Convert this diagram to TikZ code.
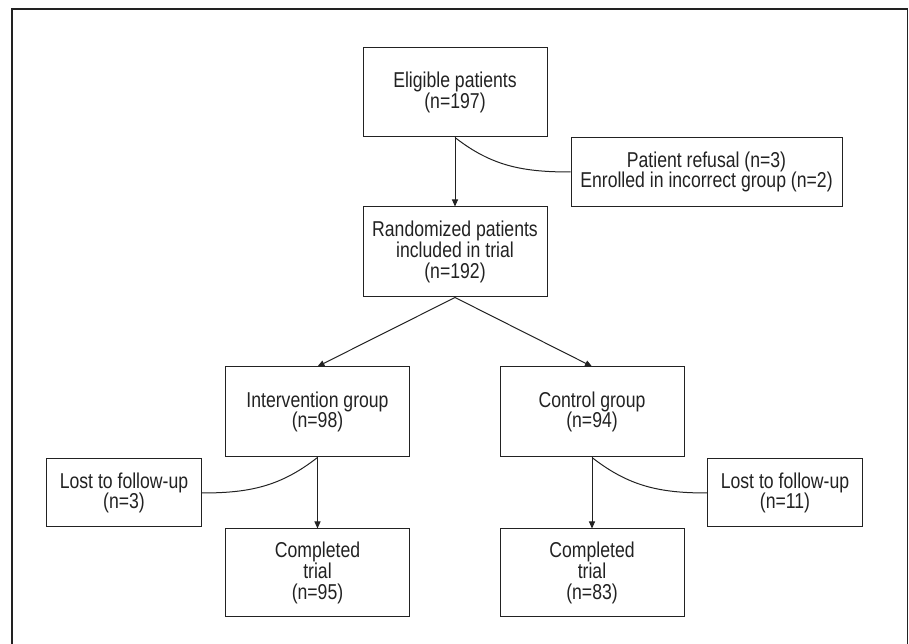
\documentclass[tikz,border=0pt]{standalone}
\usepackage{fontspec}
\setmainfont[FakeStretch=0.82]{Liberation Sans}
\usetikzlibrary{arrows.meta}
\definecolor{ink}{HTML}{222222}
\begin{document}
\begin{tikzpicture}[x=1pt,y=1pt,
  box/.style={draw=ink, line width=1pt, align=center, inner sep=0pt,
    font=\fontsize{21.5}{20.8}\selectfont, text=ink},
  arr/.style={draw=ink, line width=1pt, -{Triangle[length=7pt,width=6pt]}},
  lnk/.style={draw=ink, line width=1pt}]
\useasboundingbox (0,0) rectangle (909,644);
% frame
\draw[ink, line width=1.4pt] (12,0) -- (12,635) -- (907.5,635) -- (907.5,0);
% nodes
\node[box, minimum width=184pt, minimum height=89pt] (elig) at (455,551.5) {Eligible patients\\(n=197)};
\node[box, minimum width=271pt, minimum height=69.5pt] (refus) at (706.5,472) {Patient refusal (n=3)\\Enrolled in incorrect group (n=2)};
\node[box, minimum width=184pt, minimum height=90pt] (rand) at (455,392) {Randomized patients\\included in trial\\(n=192)};
\node[box, minimum width=184pt, minimum height=90pt] (interv) at (317.5,232) {Intervention group\\(n=98)};
\node[box, minimum width=184pt, minimum height=90pt] (ctrl) at (592,232) {Control group\\(n=94)};
\node[box, minimum width=154.5pt, minimum height=68pt] (lostA) at (124,151) {Lost to follow-up\\(n=3)};
\node[box, minimum width=155pt, minimum height=68pt] (lostB) at (785,151) {Lost to follow-up\\(n=11)};
\node[box, minimum width=184pt, minimum height=88pt] (compA) at (317.5,71) {Completed\\trial\\(n=95)};
\node[box, minimum width=184pt, minimum height=88pt] (compB) at (592,71) {Completed\\trial\\(n=83)};
% connectors
\draw[arr] (elig.south) -- (rand.north);
\draw[lnk] (elig.south) to[out=-38, in=180] (refus.west);
\draw[arr] (rand.south) -- (interv.north);
\draw[arr] (rand.south) -- (ctrl.north);
\draw[arr] (interv.south) -- (compA.north);
\draw[lnk] (interv.south) to[out=-142, in=0] (lostA.east);
\draw[arr] (ctrl.south) -- (compB.north);
\draw[lnk] (ctrl.south) to[out=-38, in=180] (lostB.west);
\end{tikzpicture}
\end{document}
